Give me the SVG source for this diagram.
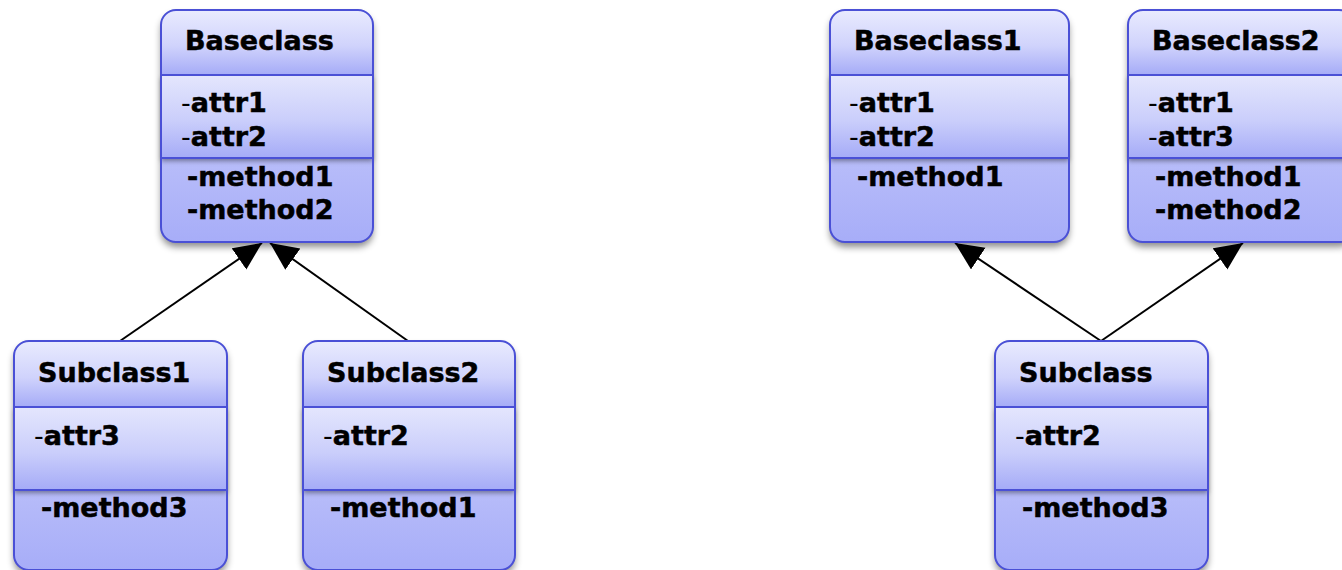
<svg xmlns="http://www.w3.org/2000/svg" width="1342" height="570" viewBox="0 0 1342 570">
<style>
.t{font-family:"DejaVu Sans",Verdana,sans-serif;font-weight:bold;font-size:27px;fill:#000;stroke:#000;stroke-width:0.5}
.d{font-weight:normal;stroke-width:0}
.ln{stroke:#4a50d6;stroke-width:2;fill:none}
.c{stroke:#000;stroke-width:2;fill:none;marker-end:url(#ah)}
</style>
<defs>
<linearGradient id="gH" x1="0" y1="0" x2="0" y2="1"><stop offset="0" stop-color="#e9ebfe"/><stop offset="0.55" stop-color="#d0d3fc"/><stop offset="1" stop-color="#a5abf7"/></linearGradient>
<linearGradient id="gA" x1="0" y1="0" x2="0" y2="1"><stop offset="0" stop-color="#e4e6fd"/><stop offset="0.55" stop-color="#cacefb"/><stop offset="1" stop-color="#a5abf7"/></linearGradient>
<linearGradient id="gM" x1="0" y1="0" x2="0" y2="1"><stop offset="0" stop-color="#d6d9fc"/><stop offset="1" stop-color="#a7adf8"/></linearGradient>
<filter id="sh" x="-10%" y="-10%" width="125%" height="125%"><feDropShadow dx="0" dy="5" stdDeviation="3.5" flood-color="#000" flood-opacity="0.45"/></filter>
<filter id="sa" x="-5%" y="-10%" width="110%" height="130%"><feDropShadow dx="0" dy="3" stdDeviation="2.5" flood-color="#000" flood-opacity="0.4"/></filter>
<marker id="ah" markerUnits="userSpaceOnUse" markerWidth="32" markerHeight="32" refX="28" refY="13" orient="auto"><path d="M0,0 L28,13 L0,26 Z" fill="#000"/></marker>
</defs>
<g id="connectors">
<line class="c" x1="120" y1="341" x2="262" y2="243"/>
<line class="c" x1="408" y1="341" x2="270" y2="243"/>
<line class="c" x1="1101" y1="341" x2="955" y2="243"/>
<line class="c" x1="1101" y1="341" x2="1243" y2="243"/>
</g>
<g id="Baseclass">
<rect x="161" y="10" width="212" height="232" rx="15" fill="url(#gM)" filter="url(#sh)"/>
<rect x="161" y="75" width="212" height="83" fill="url(#gA)" filter="url(#sa)"/>
<path d="M161,75 V25 A15,15 0 0 1 176,10 H358 A15,15 0 0 1 373,25 V75 Z" fill="url(#gH)"/>
<line class="ln" x1="161" y1="75" x2="373" y2="75"/><line class="ln" x1="161" y1="158" x2="373" y2="158"/>
<rect class="ln" x="161" y="10" width="212" height="232" rx="15"/>
<text class="t" x="185" y="50">Baseclass</text>
<text class="t" x="181" y="112"><tspan class="d">-</tspan>attr1</text>
<text class="t" x="181" y="146"><tspan class="d">-</tspan>attr2</text>
<text class="t" x="187" y="186">-method1</text>
<text class="t" x="187" y="219">-method2</text>
</g>
<g id="Subclass1">
<rect x="14" y="341" width="213" height="229" rx="15" fill="url(#gM)" filter="url(#sh)"/>
<rect x="14" y="407" width="213" height="83" fill="url(#gA)" filter="url(#sa)"/>
<path d="M14,407 V356 A15,15 0 0 1 29,341 H212 A15,15 0 0 1 227,356 V407 Z" fill="url(#gH)"/>
<line class="ln" x1="14" y1="407" x2="227" y2="407"/><line class="ln" x1="14" y1="490" x2="227" y2="490"/>
<rect class="ln" x="14" y="341" width="213" height="229" rx="15"/>
<text class="t" x="38" y="382">Subclass1</text>
<text class="t" x="34" y="445"><tspan class="d">-</tspan>attr3</text>
<text class="t" x="41" y="517">-method3</text>
</g>
<g id="Subclass2">
<rect x="303" y="341" width="212" height="229" rx="15" fill="url(#gM)" filter="url(#sh)"/>
<rect x="303" y="407" width="212" height="83" fill="url(#gA)" filter="url(#sa)"/>
<path d="M303,407 V356 A15,15 0 0 1 318,341 H500 A15,15 0 0 1 515,356 V407 Z" fill="url(#gH)"/>
<line class="ln" x1="303" y1="407" x2="515" y2="407"/><line class="ln" x1="303" y1="490" x2="515" y2="490"/>
<rect class="ln" x="303" y="341" width="212" height="229" rx="15"/>
<text class="t" x="327" y="382">Subclass2</text>
<text class="t" x="323" y="445"><tspan class="d">-</tspan>attr2</text>
<text class="t" x="330" y="517">-method1</text>
</g>
<g id="Baseclass1">
<rect x="830" y="10" width="239" height="232" rx="15" fill="url(#gM)" filter="url(#sh)"/>
<rect x="830" y="75" width="239" height="83" fill="url(#gA)" filter="url(#sa)"/>
<path d="M830,75 V25 A15,15 0 0 1 845,10 H1054 A15,15 0 0 1 1069,25 V75 Z" fill="url(#gH)"/>
<line class="ln" x1="830" y1="75" x2="1069" y2="75"/><line class="ln" x1="830" y1="158" x2="1069" y2="158"/>
<rect class="ln" x="830" y="10" width="239" height="232" rx="15"/>
<text class="t" x="854" y="50">Baseclass1</text>
<text class="t" x="849" y="112"><tspan class="d">-</tspan>attr1</text>
<text class="t" x="849" y="146"><tspan class="d">-</tspan>attr2</text>
<text class="t" x="857" y="186">-method1</text>
</g>
<g id="Baseclass2">
<rect x="1128" y="10" width="226" height="232" rx="15" fill="url(#gM)" filter="url(#sh)"/>
<rect x="1128" y="75" width="226" height="83" fill="url(#gA)" filter="url(#sa)"/>
<path d="M1128,75 V25 A15,15 0 0 1 1143,10 H1339 A15,15 0 0 1 1354,25 V75 Z" fill="url(#gH)"/>
<line class="ln" x1="1128" y1="75" x2="1354" y2="75"/><line class="ln" x1="1128" y1="158" x2="1354" y2="158"/>
<rect class="ln" x="1128" y="10" width="226" height="232" rx="15"/>
<text class="t" x="1152" y="50">Baseclass2</text>
<text class="t" x="1148" y="112"><tspan class="d">-</tspan>attr1</text>
<text class="t" x="1148" y="146"><tspan class="d">-</tspan>attr3</text>
<text class="t" x="1155" y="186">-method1</text>
<text class="t" x="1155" y="219">-method2</text>
</g>
<g id="Subclass">
<rect x="995" y="341" width="213" height="229" rx="15" fill="url(#gM)" filter="url(#sh)"/>
<rect x="995" y="407" width="213" height="83" fill="url(#gA)" filter="url(#sa)"/>
<path d="M995,407 V356 A15,15 0 0 1 1010,341 H1193 A15,15 0 0 1 1208,356 V407 Z" fill="url(#gH)"/>
<line class="ln" x1="995" y1="407" x2="1208" y2="407"/><line class="ln" x1="995" y1="490" x2="1208" y2="490"/>
<rect class="ln" x="995" y="341" width="213" height="229" rx="15"/>
<text class="t" x="1019" y="382">Subclass</text>
<text class="t" x="1015" y="445"><tspan class="d">-</tspan>attr2</text>
<text class="t" x="1022" y="517">-method3</text>
</g>
</svg>
